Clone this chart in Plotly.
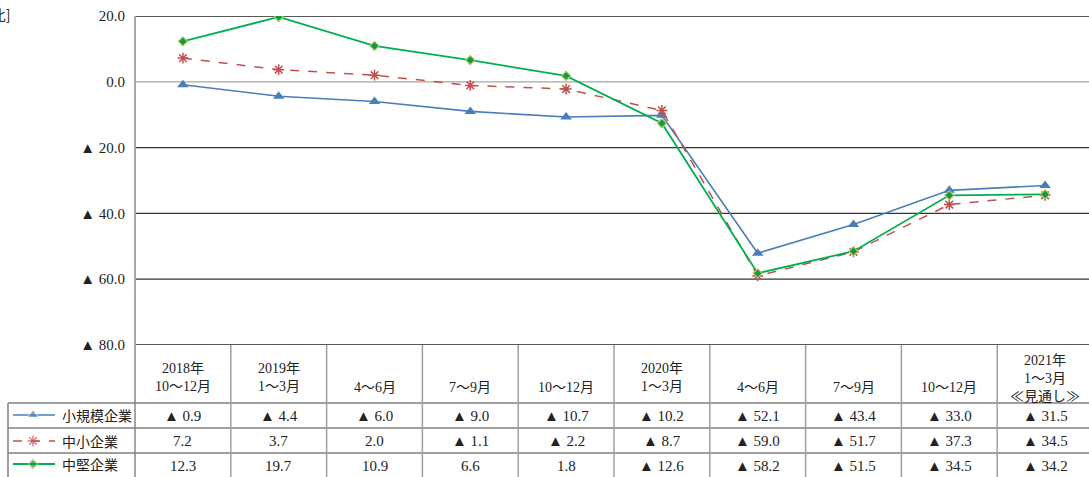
import plotly.graph_objects as go

# ---- data ----
categories = [
    "2018年<br>10～12月", "2019年<br>1～3月", "4～6月", "7～9月", "10～12月",
    "2020年<br>1～3月", "4～6月", "7～9月", "10～12月", "2021年<br>1～3月<br>≪見通し≫",
]
series_names = ["小規模企業", "中小企業", "中堅企業"]
small_biz = [-0.9, -4.4, -6.0, -9.0, -10.7, -10.2, -52.1, -43.4, -33.0, -31.5]
sme_biz = [7.2, 3.7, 2.0, -1.1, -2.2, -8.7, -59.0, -51.7, -37.3, -34.5]
mid_biz = [12.3, 19.7, 10.9, 6.6, 1.8, -12.6, -58.2, -51.5, -34.5, -34.2]
y_ticks = [20, 0, -20, -40, -60, -80]
unit_label = "[前年同期比]"

# ---- geometry (pixels) ----
W, H = 1089, 477
PL, PT, PB = 135, 16, 345          # plot area left / top / bottom
COL_W = 95.8                       # width of one category column
TBL_L = 8                          # left edge of legend column
ROW_Y = [403, 428, 453, 478]       # row boundaries of the data table

SERIF = "Liberation Serif, DejaVu Serif, Noto Sans CJK JP"
CJK = "Noto Sans CJK JP"
GRID = "#7f7f7f"


def px(x):
    return x / W


def py(y):
    return 1 - y / H


def fmt(v):
    return f"▲ {abs(v):.1f}" if v < 0 else f"{v:.1f}"


styles = [
    dict(line=dict(color="#4a7ebb", width=1.6),
         marker=dict(symbol="triangle-up", size=10, color="#4a7ebb")),
    dict(line=dict(color="#c0504d", width=1.5, dash="dash"),
         marker=dict(symbol="asterisk-open", size=9, color="#c0504d",
                     line=dict(color="#c0504d", width=1.5))),
    dict(line=dict(color="#00b050", width=1.8),
         marker=dict(symbol="diamond", size=7, color="#119a45",
                     line=dict(color="#b3c865", width=1.2))),
]
series = [small_biz, sme_biz, mid_biz]
idx = list(range(len(categories)))

fig = go.Figure()
for name, vals, st in zip(series_names, series, styles):
    fig.add_trace(go.Scatter(x=idx, y=vals, name=name, mode="lines+markers",
                             line=st["line"], marker=st["marker"],
                             xaxis="x", yaxis="y", showlegend=False))

# legend samples in the table's first column (pixel overlay axes)
legend_y = [415, 441, 464]
for name, st, ly in zip(series_names, styles, legend_y):
    m = dict(st["marker"])
    m["size"] = [0, m["size"], 0]
    fig.add_trace(go.Scatter(x=[13, 33, 55], y=[ly, ly, ly], mode="lines+markers",
                             line=st["line"], marker=m, xaxis="x2", yaxis="y2",
                             showlegend=False, hoverinfo="skip"))

shapes = []
# horizontal grid lines
grid_colors = {20: "#595959", 0: "#a6a6a6", -80: "#595959"}
for t in y_ticks:
    shapes.append(dict(type="line", xref="paper", yref="y", x0=px(PL), x1=1,
                       y0=t, y1=t, layer="below",
                       line=dict(color=grid_colors.get(t, "#333333"),
                                 width=2 if t in (20, -80) else 1.3)))
# left axis line running through the table
shapes.append(dict(type="line", xref="paper", yref="paper", x0=px(PL), x1=px(PL),
                   y0=py(PT), y1=py(H + 1), line=dict(color="#a6a6a6", width=2)))
# table horizontal lines
for yy in ROW_Y[:-1]:
    shapes.append(dict(type="line", xref="paper", yref="paper", x0=px(TBL_L), x1=1,
                       y0=py(yy), y1=py(yy), line=dict(color=GRID, width=1.5)))
# table vertical lines
shapes.append(dict(type="line", xref="paper", yref="paper", x0=px(TBL_L), x1=px(TBL_L),
                   y0=py(ROW_Y[0]), y1=py(H + 1), line=dict(color=GRID, width=1.5)))
for k in range(1, len(categories)):
    xx = PL + k * COL_W
    shapes.append(dict(type="line", xref="paper", yref="paper", x0=px(xx), x1=px(xx),
                       y0=py(PB), y1=py(H + 1), line=dict(color="#a0a0a0", width=1.5)))

annotations = []
# header cells
for i, cat in enumerate(categories):
    n = cat.count("<br>") + 1
    cy = {1: 387, 2: 377, 3: 378}[n]
    annotations.append(dict(xref="paper", yref="paper", x=px(PL + (i + 0.5) * COL_W),
                            y=py(cy), text=cat, showarrow=False, xanchor="center",
                            yanchor="middle", font=dict(family=SERIF, size=14, color="#222")))
# value cells
for r, vals in enumerate(series):
    cy = (ROW_Y[r] + ROW_Y[r + 1]) / 2
    for i, v in enumerate(vals):
        annotations.append(dict(xref="paper", yref="paper", x=px(PL + (i + 0.5) * COL_W),
                                y=py(cy), text=fmt(v), showarrow=False, xanchor="center",
                                yanchor="middle", font=dict(family=SERIF, size=15, color="#222")))
# legend labels
for name, ly in zip(series_names, legend_y):
    annotations.append(dict(xref="paper", yref="paper", x=px(60), y=py(ly),
                            text=name, showarrow=False, xanchor="left", yanchor="middle",
                            font=dict(family=CJK, size=14, color="#222")))
# unit label at the top left
annotations.append(dict(xref="paper", yref="paper", x=px(12), y=py(14), text=unit_label,
                        showarrow=False, xanchor="right", yanchor="middle",
                        font=dict(family=CJK, size=14, color="#222")))

fig.update_layout(
    width=W, height=H,
    margin=dict(l=0, r=0, t=0, b=0, autoexpand=False),
    paper_bgcolor="white", plot_bgcolor="rgba(0,0,0,0)",
    xaxis=dict(domain=[px(PL), 1], range=[-0.5, -0.5 + (W - PL) / COL_W],
               showgrid=False, zeroline=False, showticklabels=False, ticks="",
               anchor="y", automargin=False),
    yaxis=dict(domain=[py(PB), py(PT)], range=[-80, 20], tickvals=y_ticks,
               ticktext=[fmt(t) for t in y_ticks], showgrid=False, zeroline=False,
               ticks="", ticklabelstandoff=9, anchor="x", automargin=False,
               tickfont=dict(family=SERIF, size=15, color="#222")),
    xaxis2=dict(domain=[0, 1], range=[0, W], visible=False, anchor="y2",
                automargin=False),
    yaxis2=dict(domain=[0, 1], range=[H, 0], visible=False, anchor="x2",
                automargin=False),
    shapes=shapes,
    annotations=annotations,
    showlegend=False,
)

fig.write_html("out.html")
